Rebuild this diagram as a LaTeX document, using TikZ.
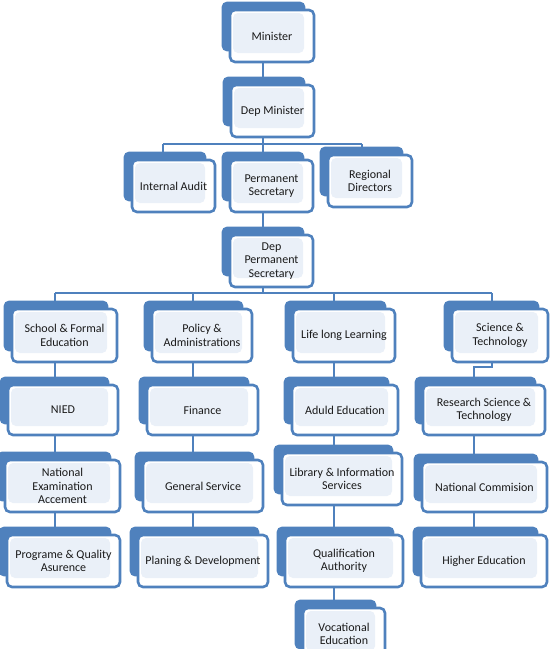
\documentclass[tikz,border=0pt]{standalone}
\usepackage{fontspec}
\setmainfont{Carlito}
\definecolor{boxblue}{HTML}{4F81BD}
\definecolor{innerfill}{HTML}{EAF0F8}
\definecolor{txt}{HTML}{1A1A1A}
\pgfdeclarelayer{background}
\pgfdeclarelayer{backbox}
\pgfsetlayers{background,backbox,main}
\tikzset{
  obox/.style={draw=boxblue, line width=2.6pt, rounded corners=5pt, fill=white,
    inner sep=0pt, align=center, text=txt,
    font=\fontsize{12}{13.4}\selectfont,
    path picture={\fill[innerfill]
      ([xshift=3pt,yshift=-3pt]path picture bounding box.north west) rectangle
      ([xshift=-10pt,yshift=9pt]path picture bounding box.south east);}},
  backbox/.style={fill=boxblue, rounded corners=5pt},
  link/.style={draw=boxblue, line width=2.9pt}
}
\newcommand\ob[6]{%
  \node[obox, minimum width={(#4-#2)*1pt}, minimum height={(#5-#3)*1pt}]
    (#1) at ({(#2+#4)/2},{(#3+#5)/2}) {#6};
  \begin{pgfonlayer}{backbox}
  \fill[backbox] ([xshift=-7pt,yshift=7pt]#1.north west) rectangle
    ([xshift=-10pt,yshift=12pt]#1.south east);
  \end{pgfonlayer}}
\begin{document}
\begin{tikzpicture}[x=1pt,y=-1pt]
\useasboundingbox (0,0) rectangle (555,649);
\coordinate (xa) at (163,0);
\coordinate (xm) at (263,0);
\coordinate (xr) at (362,0);
\coordinate (c1) at (55,0);
\coordinate (c2) at (193,0);
\coordinate (c3) at (334,0);
\coordinate (c4s) at (492,0);
\coordinate (c4) at (474,0);
\coordinate (b1) at (0,144);
\coordinate (b2) at (0,293);
\coordinate (j4) at (0,367);

\ob{minister}{230}{10}{314}{62}{Minister}
\ob{depmin}{231}{85}{314}{137}{Dep Minister}
\ob{audit}{132}{160}{215}{212}{Internal Audit}
\ob{permsec}{230}{160}{313}{212}{Permanent\\Secretary}
\ob{regional}{328}{155}{412}{207}{Regional\\Directors}
\ob{deppsec}{230}{235}{313}{287}{Dep\\Permanent\\Secretary}
\ob{school}{12}{309}{117}{362}{School \& Formal\\Education}
\ob{policy}{152}{309}{252}{362}{Policy \&\\Administrations}
\ob{lifelong}{293}{309}{395}{362}{Life long Learning}
\ob{science}{452}{309}{548}{362}{Science \&\\Technology}
\ob{nied}{8}{385}{118}{435}{NIED}
\ob{finance}{147}{385}{258}{435}{Finance}
\ob{adult}{292}{385}{398}{435}{Aduld Education}
\ob{research}{423}{385}{545}{435}{Research Science \&\\Technology}
\ob{natexam}{5}{460}{120}{512}{National\\Examination\\Accement}
\ob{general}{143}{460}{263}{512}{General Service}
\ob{library}{282}{453}{402}{505}{Library \& Information\\Services}
\ob{natcom}{422}{462}{547}{512}{National Commision}
\ob{programe}{7}{535}{120}{587}{Programe \& Quality\\Asurence}
\ob{planing}{138}{535}{268}{587}{Planing \& Development}
\ob{qual}{285}{535}{403}{587}{Qualification\\Authority}
\ob{higher}{421}{535}{547}{587}{Higher Education}
\ob{vocational}{303}{608}{385}{660}{Vocational\\Education}

\begin{pgfonlayer}{background}
\draw[link] (minister.south -| xm) -- (depmin.north -| xm);
\draw[link] (depmin.south -| xm) -- (permsec.north -| xm);
\draw[link] (b1 -| xa) -- (b1 -| xr);
\draw[link] (b1 -| xa) -- (audit.north -| xa);
\draw[link] (b1 -| xr) -- (regional.north -| xr);
\draw[link] (permsec.south -| xm) -- (deppsec.north -| xm);
\draw[link] (deppsec.south -| xm) -- (b2 -| xm);
\draw[link] (b2 -| c1) -- (b2 -| c4s);
\draw[link] (b2 -| c1) -- (school.north -| c1);
\draw[link] (b2 -| c2) -- (policy.north -| c2);
\draw[link] (b2 -| c3) -- (lifelong.north -| c3);
\draw[link] (b2 -| c4s) -- (science.north -| c4s);
\draw[link] (school.south -| c1) -- (nied.north -| c1);
\draw[link] (policy.south -| c2) -- (finance.north -| c2);
\draw[link] (lifelong.south -| c3) -- (adult.north -| c3);
\draw[link] (science.south -| c4s) -- (j4 -| c4s) -- (j4 -| c4) -- (research.north -| c4);
\draw[link] (nied.south -| c1) -- (natexam.north -| c1);
\draw[link] (finance.south -| c2) -- (general.north -| c2);
\draw[link] (adult.south -| c3) -- (library.north -| c3);
\draw[link] (research.south -| c4) -- (natcom.north -| c4);
\draw[link] (natexam.south -| c1) -- (programe.north -| c1);
\draw[link] (general.south -| c2) -- (planing.north -| c2);
\draw[link] (library.south -| c3) -- (qual.north -| c3);
\draw[link] (natcom.south -| c4) -- (higher.north -| c4);
\draw[link] (qual.south -| c3) -- (vocational.north -| c3);
\end{pgfonlayer}
\end{tikzpicture}
\end{document}
